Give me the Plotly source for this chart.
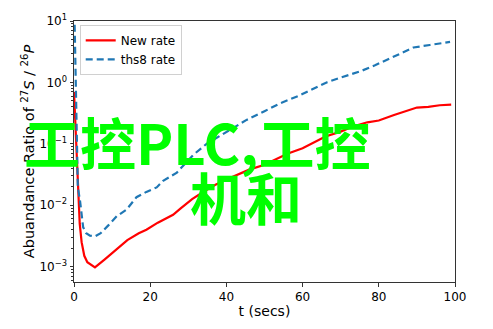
import plotly.graph_objects as go

# ---- data ----
t_new = [0, 0.3, 0.7, 1.1, 1.5, 2, 2.7, 3.5, 5.5, 8, 11, 14, 17, 19, 22, 26, 28, 31, 34, 37,
         40, 43, 46, 50, 53, 56, 60, 63, 66, 70, 73, 77, 80, 84, 88, 90, 93, 96, 99]
new_rate = [0.7, 0.25, 0.083, 0.011, 0.005, 0.0025, 0.0015, 0.00118, 0.00097, 0.0013, 0.0019,
            0.0027, 0.0035, 0.004, 0.0052, 0.007, 0.0089, 0.0126, 0.0166, 0.0214, 0.0263,
            0.0316, 0.038, 0.0457, 0.056, 0.069, 0.085, 0.107, 0.132, 0.158, 0.19, 0.224,
            0.24, 0.295, 0.355, 0.39, 0.40, 0.425, 0.435]

t_ths8 = [0, 0.3, 0.5, 0.7, 1.0, 1.6, 2.4, 3.2, 4.2, 5.5, 7, 9, 11.2, 13.8, 16.4, 19, 21.7,
          23.4, 27, 29.6, 31.3, 34.8, 38.3, 42, 45.3, 50, 54.1, 59.3, 63, 66.3, 70, 75.1,
          79, 83, 86, 89.1, 93.4, 96, 98.7]
ths8_rate = [30, 3.2, 0.32, 0.05, 0.02, 0.0115, 0.0044, 0.0035, 0.0032, 0.0031, 0.0035,
             0.0047, 0.0066, 0.0085, 0.0135, 0.0165, 0.0195, 0.025, 0.034, 0.051, 0.066,
             0.1, 0.135, 0.18, 0.245, 0.34, 0.457, 0.617, 0.79, 1.0, 1.2, 1.51, 1.9, 2.45,
             3.0, 3.7, 4.07, 4.27, 4.57]

x_ticks = [0, 20, 40, 60, 80, 100]
y_tickvals = [0.001, 0.01, 0.1, 1, 10]
y_ticktext = ["10<sup>\u22123</sup>", "10<sup>\u22122</sup>", "10<sup>\u22121</sup>",
              "10<sup>0</sup>", "10<sup>1</sup>"]
watermark_lines = ["工控PLC,工控", "机和"]

FONT = "DejaVu Sans"

fig = go.Figure()
fig.add_trace(go.Scatter(x=t_new, y=new_rate, mode="lines", name="New rate",
                         line=dict(color="#ff0000", width=2.2)))
fig.add_trace(go.Scatter(x=t_ths8, y=ths8_rate, mode="lines", name="ths8 rate",
                         line=dict(color="#1f77b4", width=2.2, dash="7px,4px")))

fig.update_layout(
    width=493, height=329,
    margin=dict(l=74, r=38, t=18, b=42),
    paper_bgcolor="white", plot_bgcolor="white",
    font=dict(family=FONT, size=12, color="#000"),
    showlegend=True,
    legend=dict(x=0.015, y=0.985, xanchor="left", yanchor="top",
                bgcolor="rgba(255,255,255,0.85)", bordercolor="#d0d0d0", borderwidth=1,
                font=dict(family=FONT, size=12), tracegroupgap=0,
                itemwidth=30),
)
fig.update_xaxes(
    range=[0, 100], tickvals=x_ticks, ticks="outside", ticklen=3.5, tickwidth=1,
    tickcolor="#333", showline=True, linecolor="#333", linewidth=1, mirror=True,
    showgrid=False, zeroline=False,
    title=dict(text="t (secs)", font=dict(family=FONT, size=14), standoff=3),
    tickfont=dict(family=FONT, size=12),
)
fig.update_yaxes(
    type="log", range=[-3.25, 1], tickvals=y_tickvals, ticktext=y_ticktext,
    ticks="outside", ticklen=3.5, tickwidth=1, tickcolor="#333",
    showline=True, linecolor="#333", linewidth=1, mirror=True,
    showgrid=False, zeroline=False,
    minor=dict(ticks="outside", ticklen=2, tickcolor="#333", dtick="D1", showgrid=False),
    title=dict(text="Abuandance Ratio of <sup>27</sup><i>S</i> / <sup>26</sup><i>P</i>",
               font=dict(family=FONT, size=14.5), standoff=1),
    tickfont=dict(family=FONT, size=12),
)

# watermark text overlay (paper coords derived from the plot domain)
fig.add_annotation(text="<b>" + watermark_lines[0] + "</b>", xref="paper", yref="paper",
                   x=0.325, y=0.543, xanchor="center", yanchor="middle", showarrow=False,
                   font=dict(family="Noto Sans CJK SC", size=56, color="#00ff00"))
fig.add_annotation(text="<b>" + watermark_lines[1] + "</b>", xref="paper", yref="paper",
                   x=0.451, y=0.331, xanchor="center", yanchor="middle", showarrow=False,
                   font=dict(family="Noto Sans CJK SC", size=56, color="#00ff00"))

fig.write_html("out.html")
